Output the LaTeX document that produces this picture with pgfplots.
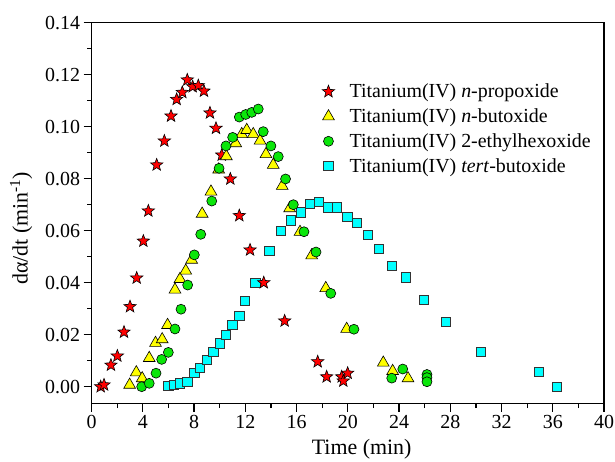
\documentclass[border=0pt]{standalone}
\usepackage{fontspec}
\setmainfont{Liberation Serif}
\usepackage{pgfplots}
\pgfplotsset{compat=1.18}
\definecolor{cred}{RGB}{255,0,0}
\definecolor{cyel}{RGB}{255,255,0}
\definecolor{cgrn}{RGB}{10,230,10}
\definecolor{ccyn}{RGB}{0,255,255}
\newcommand{\F}{\fontsize{20}{24}\selectfont}
\newcommand{\FL}{\fontsize{22}{26}\selectfont}
\pgfdeclareplotmark{fstar}{%
  \pgfpathmoveto{\pgfpointpolar{90}{\pgfplotmarksize}}%
  \pgfpathlineto{\pgfpointpolar{126}{0.42*\pgfplotmarksize}}%
  \pgfpathlineto{\pgfpointpolar{162}{\pgfplotmarksize}}%
  \pgfpathlineto{\pgfpointpolar{198}{0.42*\pgfplotmarksize}}%
  \pgfpathlineto{\pgfpointpolar{234}{\pgfplotmarksize}}%
  \pgfpathlineto{\pgfpointpolar{270}{0.42*\pgfplotmarksize}}%
  \pgfpathlineto{\pgfpointpolar{306}{\pgfplotmarksize}}%
  \pgfpathlineto{\pgfpointpolar{342}{0.42*\pgfplotmarksize}}%
  \pgfpathlineto{\pgfpointpolar{18}{\pgfplotmarksize}}%
  \pgfpathlineto{\pgfpointpolar{54}{0.42*\pgfplotmarksize}}%
  \pgfpathclose
  \pgfusepathqfillstroke
}
\pgfplotsset{
  starS/.style={only marks, mark=fstar, mark size=6.5bp, mark options={draw=black, fill=cred, line width=0.6bp}},
  triS/.style={only marks, mark=triangle*, mark size=6.8bp, mark options={draw=black, fill=cyel, line width=0.6bp}},
  cirS/.style={only marks, mark=*, mark size=5bp, mark options={draw=black, fill=cgrn, line width=0.6bp}},
  sqS/.style={only marks, mark=square*, mark size=4.7bp, mark options={draw=black!80, fill=ccyn, line width=0.8bp}},
}
\begin{document}
\begin{tikzpicture}
\begin{axis}[
  at={(0,0)}, anchor=south west,
  scale only axis, width=512.4bp, height=380.8bp,
  xmin=0, xmax=40, ymin=-0.00646, ymax=0.14,
  xtick={0,4,8,12,16,20,24,28,32,36,40},
  ytick={0,0.02,0.04,0.06,0.08,0.10,0.12,0.14},
  minor x tick num=1, minor y tick num=1,
  tick align=outside, tick pos=left,
  major tick length=8bp, minor tick length=4.5bp,
  axis line style={line width=1.4bp},
  every tick/.style={black, line width=1.2bp},
  yticklabel style={/pgf/number format/.cd, fixed, fixed zerofill, precision=2},
  /pgf/number format/assume math mode=true,
  tick label style={font=\F},
  label style={font=\FL},
  xlabel={Time (min)},
  ylabel={dα/dt (min\textsuperscript{-1})},
  every axis x label/.append style={at={(ticklabel cs:0.527)}},
  every axis y label/.append style={at={(ticklabel cs:0.46)}},
  xlabel shift=4bp,
  ylabel shift=6bp,
  legend style={draw=none, fill=none, at={(0.444,0.85)}, anchor=north west, font=\F,
    row sep=5.5bp, /tikz/every odd column/.append style={column sep=13bp}},
  legend cell align=left,
]
\addlegendimage{starS}
\addlegendentry{Titanium(IV) \textit{n}-propoxide}
\addlegendimage{triS}
\addlegendentry{Titanium(IV) \textit{n}-butoxide}
\addlegendimage{cirS}
\addlegendentry{Titanium(IV) 2-ethylhexoxide}
\addlegendimage{sqS}
\addlegendentry{Titanium(IV) \textit{tert}-butoxide}

% tert-butoxide
\addplot[sqS, forget plot] coordinates {
(5.99,0.0003) (6.43,0.0007) (6.90,0.0013) (7.47,0.0019) (8.02,0.0052) (8.46,0.0073)
(8.99,0.0103) (9.50,0.0135) (10.02,0.0167) (10.47,0.0199) (10.98,0.0237) (11.53,0.0272)
(11.98,0.0330) (12.78,0.0400) (13.87,0.0523) (14.76,0.0599) (15.57,0.0640) (16.35,0.0670)
(17.03,0.0702) (17.75,0.0710) (18.48,0.0690) (19.17,0.0690) (19.96,0.0654) (20.69,0.0631)
(21.55,0.0583) (22.44,0.0530) (23.43,0.0464) (24.54,0.0421) (25.95,0.0333) (27.67,0.0250)
(30.37,0.0135) (34.93,0.0058) (36.33,0.0000)
};
% n-propoxide
\addplot[starS, forget plot] coordinates {
(0.71,0.0000) (0.97,0.0007) (1.51,0.0083) (2.01,0.0118) (2.53,0.0210) (3.00,0.0308)
(3.52,0.0418) (4.04,0.0560) (4.43,0.0676) (5.08,0.0853) (5.68,0.0945) (6.20,0.1041)
(6.64,0.1105) (7.08,0.1132) (7.47,0.1180) (7.89,0.1154) (8.33,0.1158) (8.77,0.1137)
(9.24,0.1053) (9.71,0.0994) (10.16,0.0891) (10.83,0.0799) (11.53,0.0658) (12.37,0.0526)
(13.44,0.0400) (15.07,0.0253) (17.65,0.0096) (18.35,0.0038) (19.52,0.0038) (19.65,0.0022)
(19.99,0.0052)
};
% n-butoxide
\addplot[triS, forget plot] coordinates {
(2.97,0.0007) (3.49,0.0055) (3.95,0.0032) (4.50,0.0110) (4.99,0.0168) (5.51,0.0182)
(5.93,0.0237) (6.51,0.0373) (6.90,0.0414) (7.35,0.0446) (7.81,0.0488) (8.63,0.0665)
(9.32,0.0750) (9.92,0.0835) (10.52,0.0886) (11.25,0.0936) (11.72,0.0971) (12.11,0.0987)
(12.62,0.0971) (13.15,0.0946) (13.61,0.0894) (14.18,0.0853) (14.88,0.0772) (15.46,0.0686)
(16.27,0.0595) (17.18,0.0505) (18.28,0.0379) (19.91,0.0222) (22.77,0.0092) (23.50,0.0060)
(24.70,0.0032)
};
% 2-ethylhexoxide
\addplot[cirS, forget plot] coordinates {
(3.91,0.0000) (4.50,0.0013) (5.03,0.0052) (5.47,0.0105) (5.99,0.0132) (6.51,0.0222)
(6.98,0.0298) (7.50,0.0391) (8.02,0.0507) (8.52,0.0586) (9.38,0.0714) (9.95,0.0840)
(10.49,0.0926) (11.01,0.0959) (11.53,0.1037) (12.03,0.1047) (12.50,0.1055) (13.01,0.1068)
(13.40,0.0981) (14.00,0.0926) (14.57,0.0885) (15.14,0.0799) (15.75,0.0700) (16.58,0.0596)
(17.52,0.0518) (18.67,0.0359) (20.48,0.0221) (23.43,0.0033) (24.29,0.0068) (26.18,0.0047)
(26.18,0.0035) (26.18,0.0019)
};
\end{axis}
\pgfresetboundingbox
\useasboundingbox (-91.6bp,-58.5bp) rectangle (523.4bp,403.5bp);
\end{tikzpicture}
\end{document}
